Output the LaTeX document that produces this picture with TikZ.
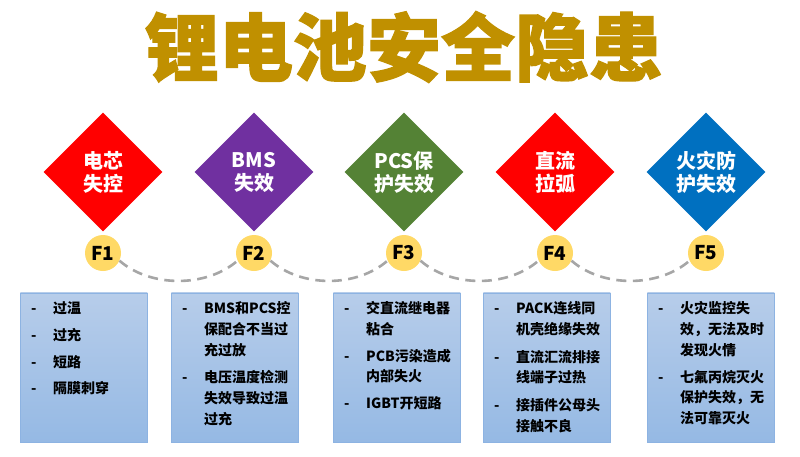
\documentclass[tikz,border=0pt]{standalone}
\usepackage{fontspec}
\setmainfont{Noto Sans CJK SC}
\newfontfamily\titlefont{Noto Sans CJK SC}[BoldFeatures={FakeBold=1.6}]
\usetikzlibrary{shapes.geometric}
\definecolor{titlegold}{RGB}{192,144,0}
\definecolor{dred}{RGB}{255,0,0}
\definecolor{dpurple}{RGB}{112,48,160}
\definecolor{dgreen}{RGB}{84,130,53}
\definecolor{dblue}{RGB}{0,112,192}
\definecolor{fyellow}{RGB}{255,217,102}
\definecolor{dashgray}{RGB}{166,166,166}
\definecolor{boxtop}{RGB}{183,205,234}
\definecolor{boxbot}{RGB}{149,185,228}
\definecolor{boxedge}{RGB}{141,179,226}
\tikzset{
  risk/.style={shape=diamond, fill=#1, draw=none, minimum width=119pt, minimum height=119pt, inner sep=0pt,
    text=white, align=center, font=\fontsize{20}{23}\selectfont\bfseries},
  fcircle/.style={circle, fill=fyellow, draw=none, minimum size=36pt, inner sep=0pt,
    font=\fontsize{19}{19}\selectfont\bfseries},
  link/.style={draw=dashgray, line width=2.6pt, dash pattern=on 10pt off 6.5pt},
  infobox/.style={draw=boxedge, line width=0.8pt, top color=boxtop, bottom color=boxbot,
    minimum width=127pt, minimum height=149.5pt, inner sep=0pt, anchor=north west},
  boxtxt/.style={anchor=north west, inner sep=0pt, font=\fontsize{14}{20.7}\selectfont\bfseries}
}
\newcommand{\lst}[1]{\renewcommand{\arraystretch}{1}\begin{tabular}{@{}p{22pt}@{}l@{}}#1\end{tabular}}
\begin{document}
\begin{tikzpicture}[x=1pt,y=-1pt]
\useasboundingbox (0,0) rectangle (800,456);
\node[text=titlegold, font=\titlefont\fontsize{74}{74}\selectfont\bfseries, inner sep=0pt] (title) at (404,47) {锂电池安全隐患};

\node[risk=dred]    (d1) at (103,172) {电芯\\失控};
\node[risk=dpurple] (d2) at (254,172) {BMS\\失效};
\node[risk=dgreen]  (d3) at (404,172) {PCS保\\护失效};
\node[risk=dred]    (d4) at (555,172) {直流\\拉弧};
\node[risk=dblue]   (d5) at (706,172) {火灾防\\护失效};

\node[fcircle] (f1) at (103,253) {F1};
\node[fcircle] (f2) at (254,253) {F2};
\node[fcircle] (f3) at (404,253) {F3};
\node[fcircle] (f4) at (555,253) {F4};
\node[fcircle] (f5) at (706,253) {F5};

\draw[link] (f1.-25) .. controls +(31,27) and +(-31,27) .. (f2.-155);
\draw[link] (f2.-25) .. controls +(31,27) and +(-31,27) .. (f3.-155);
\draw[link] (f3.-25) .. controls +(31,27) and +(-31,27) .. (f4.-155);
\draw[link] (f4.-25) .. controls +(31,27) and +(-31,27) .. (f5.-155);

\node[infobox] (b1) at (20,292.5) {};
\node[infobox] (b2) at (171,292.5) {};
\node[infobox] (b3) at (333,292.5) {};
\node[infobox] (b4) at (483,292.5) {};
\node[infobox] (b5) at (647,292.5) {};

\node[boxtxt] (t1) at (31,299) {\lst{- & 过温\\[6pt] - & 过充\\[6pt] - & 短路\\[6pt] - & 隔膜刺穿}};
\node[boxtxt] (t2) at (182,299) {\lst{- & BMS和PCS控\\ & 保配合不当过\\ & 充过放\\[7pt] - & 电压温度检测\\ & 失效导致过温\\ & 过充}};
\node[boxtxt] (t3) at (344,299) {\lst{- & 交直流继电器\\ & 粘合\\[6pt] - & PCB污染造成\\ & 内部失火\\[6pt] - & IGBT开短路}};
\node[boxtxt] (t4) at (494,299) {\lst{- & PACK连线同\\ & 机壳绝缘失效\\[7pt] - & 直流汇流排接\\ & 线端子过热\\[7pt] - & 接插件公母头\\ & 接触不良}};
\node[boxtxt] (t5) at (658,299) {\lst{- & 火灾监控失\\ & 效，无法及时\\ & 发现火情\\[6.5pt] - & 七氟丙烷灭火\\ & 保护失效，无\\ & 法可靠灭火}};
\end{tikzpicture}
\end{document}
